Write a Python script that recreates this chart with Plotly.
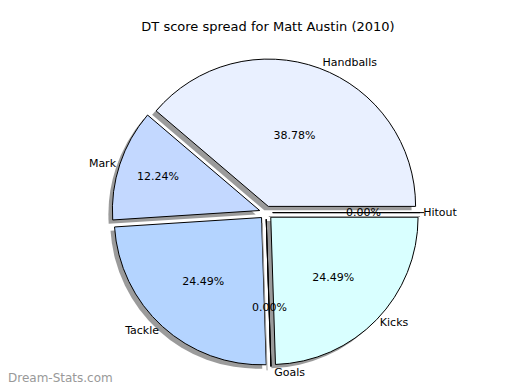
import math
import plotly.graph_objects as go

labels = ["Handballs", "Mark", "Tackle", "Goals", "Kicks", "Hitout"]
values = [19, 6, 12, 0, 12, 0]
colors = ["#E9F0FF", "#C3D8FF", "#B4D4FF", "#B0D0FF", "#D9FFFF", "#E0FFF0"]
title = "DT score spread for Matt Austin (2010)"
watermark = "Dream-Stats.com"

W, H = 520, 390
cx, cy = 258, 180  # center in px from bottom-left
R = 158
dx, dy = -4, -4
PULL = 0.045
pull = [PULL] * len(values)
font = "DejaVu Sans, Arial, sans-serif"
total = sum(values)

# start first slice at 3 o'clock, going counterclockwise (matplotlib-style)
rot = 90 - values[0] / total * 360

def dom(ox, oy):
    return dict(x=[(cx + ox - R) / W, (cx + ox + R) / W],
                y=[(cy + oy - R) / H, (cy + oy + R) / H])

common = dict(labels=labels, values=values, sort=False, direction="counterclockwise",
              rotation=rot, pull=pull, showlegend=False, hoverinfo="skip")

fig = go.Figure()
# shadow
fig.add_trace(go.Pie(**common, domain=dom(dx, dy), textinfo="none",
                     marker=dict(colors=["#8a8a8a"] * len(values), line=dict(width=0)),
                     opacity=0.85))
# main pie with percentages
fig.add_trace(go.Pie(**common, domain=dom(0, 0), textposition="inside",
                     texttemplate="%{percent:.2%}", insidetextorientation="horizontal",
                     textfont=dict(family=font, size=11, color="black"),
                     marker=dict(colors=colors, line=dict(color="black", width=1))))
# outer labels
fig.add_trace(go.Pie(**common, domain=dom(0, 0), textposition="outside",
                     texttemplate="%{label}", outsidetextfont=dict(family=font, size=11, color="black"),
                     marker=dict(colors=["rgba(0,0,0,0)"] * len(values), line=dict(width=0))))

# zero-size slices: plotly does not draw them, so draw their edge and percent text
r = R / (1 + PULL)
shapes, annotations = [], []
cum = 0
for lab, v in zip(labels, values):
    cum += v
    if v == 0:
        th = math.radians(cum / total * 360)
        ux, uy = math.cos(th), math.sin(th)
        d0, d1 = PULL * r, (1 + PULL) * r
        for ox, oy, col in ((dx, dy, "#9a9a9a"), (0, 0, "black")):
            shapes.append(dict(type="line", xref="paper", yref="paper",
                               x0=(cx + ox + d0 * ux) / W, y0=(cy + oy + d0 * uy) / H,
                               x1=(cx + ox + d1 * ux) / W, y1=(cy + oy + d1 * uy) / H,
                               line=dict(color=col, width=1)))
        dt = (0.6 + PULL) * r
        annotations.append(dict(text="0.00%", xref="paper", yref="paper",
                                x=(cx + dt * ux) / W, y=(cy + dt * uy) / H,
                                xanchor="center", yanchor="middle", showarrow=False,
                                font=dict(family=font, size=11, color="black")))

annotations.append(dict(text=watermark, x=0, y=0, xref="paper", yref="paper",
                        xanchor="left", yanchor="middle", showarrow=False,
                        xshift=-2, yshift=10,
                        font=dict(family=font, size=12, color="#999999")))

fig.update_layout(
    width=W, height=H, margin=dict(l=0, r=0, t=0, b=0),
    paper_bgcolor="white", plot_bgcolor="white",
    title=dict(text=title, x=0.5, xanchor="center", y=1 - 18 / H, yanchor="middle",
               font=dict(family=font, size=13, color="black")),
    shapes=shapes, annotations=annotations,
)
fig.write_html("out.html")
